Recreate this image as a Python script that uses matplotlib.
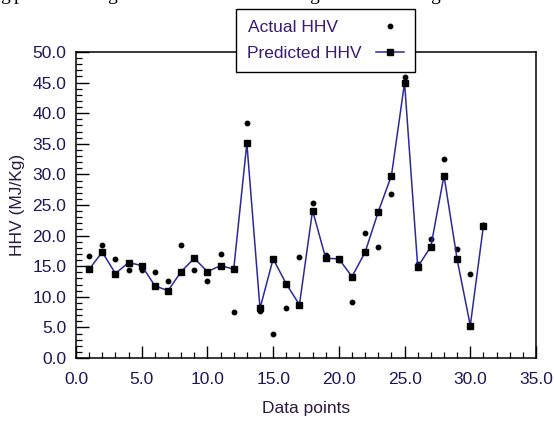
import numpy as np
import matplotlib
matplotlib.use("Agg")
import matplotlib.pyplot as plt
from matplotlib.ticker import MultipleLocator, FormatStrFormatter

# data points (index 1..31)
points = np.arange(1, 32)
actual_hhv = [16.7, 18.5, 16.2, 14.3, 14.4, 14.0, 12.6, 18.5, 14.3, 12.6,
              17.0, 7.5, 38.4, 7.6, 4.0, 8.2, 16.5, 25.3, 16.9, 16.0,
              9.2, 20.4, 18.2, 26.8, 45.9, 15.3, 19.4, 32.5, 17.8, 13.8, 21.8]
predicted_hhv = [14.5, 17.3, 13.8, 15.6, 15.1, 11.8, 11.0, 14.1, 16.3, 14.1,
                 15.1, 14.5, 35.1, 8.1, 16.2, 12.1, 8.7, 24.1, 16.3, 16.2,
                 13.3, 17.3, 23.9, 29.8, 45.0, 14.9, 18.2, 29.8, 16.1, 5.3, 21.6]

plt.rcParams['font.family'] = ['Liberation Sans', 'DejaVu Sans']
txt_col = '#22145a'

fig = plt.figure(figsize=(5.54, 4.21), dpi=100)
ax = fig.add_axes([76 / 554, 1 - 358 / 421, 460 / 554, 306 / 421])

ax.plot(points, actual_hhv, 'o', color='black', markersize=3.2, label='Actual HHV')
ax.plot(points, predicted_hhv, '-s', color='#2a2a9c', lw=1.1,
        markerfacecolor='black', markeredgecolor='black', markersize=4.8,
        label='Predicted HHV')

ax.set_xlim(0, 35)
ax.set_ylim(0, 50)
ax.xaxis.set_major_locator(MultipleLocator(5))
ax.xaxis.set_minor_locator(MultipleLocator(1))
ax.yaxis.set_major_locator(MultipleLocator(5))
ax.yaxis.set_minor_locator(MultipleLocator(1))
ax.xaxis.set_major_formatter(FormatStrFormatter('%.1f'))
ax.yaxis.set_major_formatter(FormatStrFormatter('%.1f'))
ax.tick_params(which='major', direction='in', length=9, width=1.0,
               labelsize=12.5, labelcolor=txt_col)
ax.tick_params(which='minor', direction='in', length=4, width=0.9)
ax.tick_params(axis='x', which='both', top=False)
ax.tick_params(axis='x', which='major', pad=10)
ax.tick_params(axis='y', which='both', right=False)
ax.tick_params(axis='y', which='major', pad=7)
for s in ax.spines.values():
    s.set_linewidth(1.1)

ax.set_xlabel('Data points', fontsize=12.5, color='#2a1a40', labelpad=10)
ax.set_ylabel('HHV (MJ/Kg)', fontsize=12.5, color='#2a1a40', labelpad=5)

# labels padded so both texts sit flush left with handles on the right
leg = ax.legend(['Actual HHV' + '\u00a0' * 5, 'Predicted HHV'],
                loc='upper left', bbox_to_anchor=(236 / 554, 1 - 9 / 421),
                bbox_transform=fig.transFigure, borderaxespad=0,
                markerfirst=False, fancybox=False, framealpha=1,
                edgecolor='black', fontsize=12.5, handlelength=1.6,
                handletextpad=0.8, borderpad=0.65, labelspacing=0.6)
leg.get_frame().set_linewidth(1.0)
for t in leg.get_texts():
    t.set_color('#3a1a78')

# clipped line of document text above the chart
for xp, ch in [(0, 'g'), (14, 'p'), (107, 'g'), (309, 'g'), (430, 'g')]:
    fig.text(xp / 554, 1.0, ch, family='Liberation Serif', fontsize=14,
             va='baseline', ha='left', color='black')

fig.savefig('out.png', dpi=100)
